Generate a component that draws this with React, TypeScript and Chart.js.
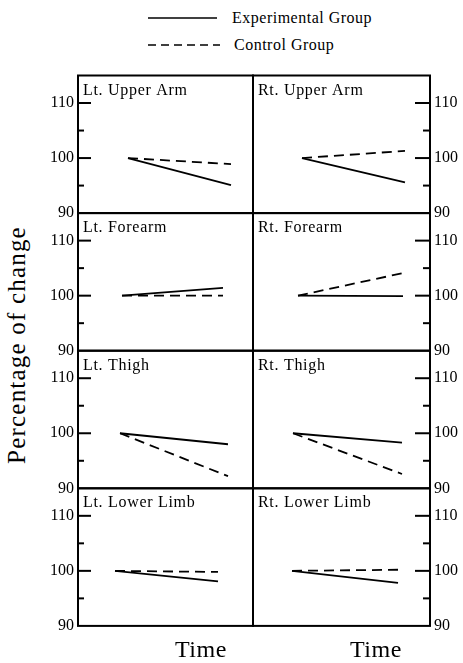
import React, { useEffect, useRef } from "react";
import { Chart, registerables } from "chart.js";

Chart.register(...registerables);

// ---------------- data ----------------
const panelTitles = [
  "Lt. Upper Arm", "Rt. Upper Arm",
  "Lt. Forearm", "Rt. Forearm",
  "Lt. Thigh", "Rt. Thigh",
  "Lt. Lower Limb", "Rt. Lower Limb",
];
const timePoints = [0, 1];
const experimentalValues = [
  [100, 95.1], [100, 95.6],
  [100, 101.4], [100, 99.9],
  [100, 98.0], [100, 98.3],
  [100, 98.1], [100, 97.8],
];
const controlValues = [
  [100, 98.9], [100, 101.3],
  [100, 100.0], [100, 104.1],
  [100, 92.2], [100, 92.6],
  [100, 99.8], [100, 100.2],
];
const labeledTicks = [90, 100, 110];
const allTicks = [90, 95, 100, 105, 110];
const seriesNames = ["Experimental Group", "Control Group"];
const yTitle = "Percentage of change";
const xTitle = "Time";

// ---------------- layout / style ----------------
const FRAME = { left: 78, mid: 253, right: 430, top: 75.5, rowH: 137.6 };
// pixel positions where each panel's line starts/ends (hand-drawn offsets)
const LINE_PX = [
  [128, 231], [302, 405],
  [122, 223], [298, 403],
  [120, 228], [293, 402],
  [115, 218], [292, 398],
];
const SERIF = '"Liberation Serif", "Times New Roman", serif';
const CANVAS_H = 172;

function panelGeom(i: number) {
  const col = i % 2;
  const row = Math.floor(i / 2);
  const top = FRAME.top + row * FRAME.rowH;
  const canvasTop = Math.floor(top) - 14;
  const padTop = top - canvasTop;
  const padBottom = CANVAS_H - padTop - FRAME.rowH;
  if (col === 0) {
    const canvasLeft = 30;
    const width = FRAME.mid - canvasLeft + 4;
    return { col, row, top, canvasTop, canvasLeft, width, padTop, padBottom, padLeft: 0, padRight: 4, axisW: FRAME.left - canvasLeft, areaLeft: FRAME.left, areaW: FRAME.mid - FRAME.left };
  }
  const canvasLeft = FRAME.mid - 4;
  const width = 463 - canvasLeft;
  return { col, row, top, canvasTop, canvasLeft, width, padTop, padBottom, padLeft: 4, padRight: 0, axisW: 463 - FRAME.right, areaLeft: FRAME.mid, areaW: FRAME.right - FRAME.mid };
}

const framePlugin = {
  id: "panelFrame",
  afterDraw(chart: any) {
    const { ctx, chartArea: a } = chart;
    const y = chart.scales.y;
    const opts = chart.options.plugins.panelFrame;
    ctx.save();
    ctx.strokeStyle = "#000";
    ctx.lineWidth = 2;
    ctx.strokeRect(a.left, a.top, a.right - a.left, a.bottom - a.top);
    ctx.lineWidth = 2;
    for (const v of allTicks) {
      if (v === 90) continue;
      const py = y.getPixelForValue(v);
      const major = labeledTicks.includes(v);
      const len = opts.side === "left" ? (major ? 13 : 6) : (major ? 15 : 7);
      ctx.beginPath();
      if (opts.side === "left") {
        ctx.moveTo(a.left, py);
        ctx.lineTo(a.left + len, py);
      } else {
        ctx.moveTo(a.right, py);
        ctx.lineTo(a.right - len, py);
      }
      ctx.stroke();
    }
    ctx.fillStyle = "#000";
    ctx.font = `16px ${SERIF}`;
    (ctx as any).letterSpacing = "0.7px";
    ctx.textAlign = "left";
    ctx.textBaseline = "alphabetic";
    ctx.fillText(opts.title, a.left + 5, a.top + 19);
    ctx.restore();
  },
};

export default function App() {
  const refs = useRef<(HTMLCanvasElement | null)[]>([]);

  useEffect(() => {
    const charts: Chart[] = [];
    panelTitles.forEach((title, i) => {
      const canvas = refs.current[i];
      if (!canvas) return;
      const g = panelGeom(i);
      const [sPx, ePx] = LINE_PX[i];
      const unit = ePx - sPx;
      const xMin = -(sPx - g.areaLeft) / unit;
      const xMax = xMin + g.areaW / unit;
      const chart = new Chart(canvas, {
        type: "line",
        data: {
          datasets: [
            {
              label: seriesNames[0],
              data: timePoints.map((t, k) => ({ x: t, y: experimentalValues[i][k] })),
              borderColor: "#000",
              borderWidth: 1.8,
              pointRadius: 0,
              tension: 0,
            },
            {
              label: seriesNames[1],
              data: timePoints.map((t, k) => ({ x: t, y: controlValues[i][k] })),
              borderColor: "#000",
              borderWidth: 1.8,
              borderDash: [10, 6],
              pointRadius: 0,
              tension: 0,
            },
          ],
        },
        options: {
          responsive: false,
          animation: false,
          events: [],
          layout: {
            autoPadding: false,
            padding: { top: g.padTop, bottom: g.padBottom, left: g.padLeft, right: g.padRight },
          },
          plugins: {
            legend: { display: false },
            tooltip: { enabled: false },
            panelFrame: { side: g.col === 0 ? "left" : "right", title },
          } as any,
          scales: {
            x: { type: "linear", display: false, min: xMin, max: xMax },
            y: {
              type: "linear",
              position: g.col === 0 ? "left" : "right",
              min: 90,
              max: 115,
              grid: { display: false, drawTicks: false },
              border: { display: false },
              afterFit: (s: any) => { s.width = g.axisW; },
              ticks: {
                stepSize: 5,
                autoSkip: false,
                padding: 4,
                color: "#000",
                font: { family: SERIF, size: 16 },
                callback: (v: any) => (labeledTicks.includes(Number(v)) ? String(v) : ""),
              },
            },
          },
        },
        plugins: [framePlugin],
      });
      charts.push(chart);
    });
    return () => charts.forEach((c) => c.destroy());
  }, []);

  const abs: React.CSSProperties = { position: "absolute", margin: 0, whiteSpace: "nowrap", color: "#000", fontFamily: SERIF };

  return (
    <div style={{ position: "absolute", left: 0, top: 0, width: 463, height: 663, background: "#fff", overflow: "hidden" }}>
      {/* legend */}
      <svg style={{ position: "absolute", left: 0, top: 0 }} width={463} height={60}>
        <line x1={148} y1={18} x2={217} y2={18} stroke="#000" strokeWidth={1.5} />
        <line x1={148} y1={45} x2={220} y2={45} stroke="#000" strokeWidth={1.5} strokeDasharray="8 5" />
      </svg>
      <div style={{ ...abs, left: 232, top: 10, fontSize: 16, lineHeight: "16px", letterSpacing: "0.5px" }}>{seriesNames[0]}</div>
      <div style={{ ...abs, left: 234, top: 36.6, fontSize: 16, lineHeight: "16px", letterSpacing: "0.5px" }}>{seriesNames[1]}</div>

      {panelTitles.map((_, i) => {
        const g = panelGeom(i);
        return (
          <canvas
            key={i}
            ref={(el) => { refs.current[i] = el; }}
            width={g.width}
            height={CANVAS_H}
            style={{ position: "absolute", left: g.canvasLeft, top: g.canvasTop, width: g.width, height: CANVAS_H }}
          />
        );
      })}

      <div
        style={{
          ...abs,
          left: 17 - 125,
          top: 345 - 13,
          width: 250,
          height: 26,
          lineHeight: "26px",
          fontSize: 25,
          letterSpacing: "1.2px",
          textAlign: "center",
          transform: "rotate(-90deg)",
        }}
      >
        {yTitle}
      </div>
      <div style={{ ...abs, left: 175, top: 636, fontSize: 24, lineHeight: "26px", letterSpacing: "0.5px" }}>{xTitle}</div>
      <div style={{ ...abs, left: 350, top: 636, fontSize: 24, lineHeight: "26px", letterSpacing: "0.5px" }}>{xTitle}</div>
    </div>
  );
}
